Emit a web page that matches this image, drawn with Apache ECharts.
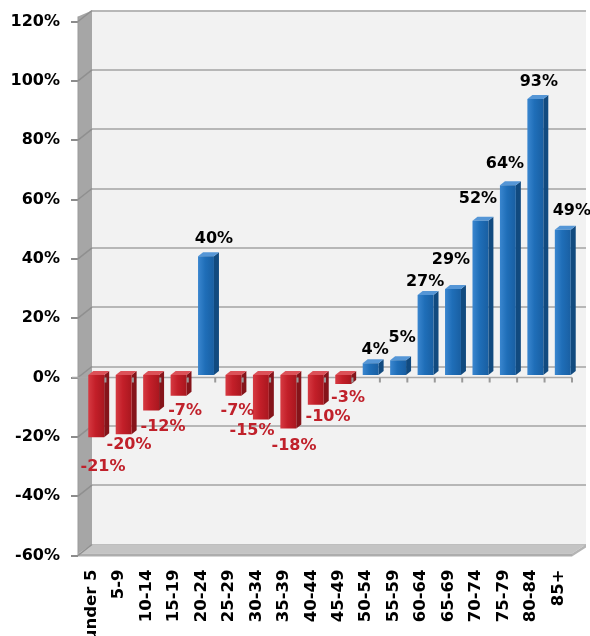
<!DOCTYPE html>
<html>
<head>
<meta charset="utf-8">
<script src="https://cdn.jsdelivr.net/npm/echarts@6/dist/echarts.min.js"></script>
<style>
html,body{margin:0;padding:0;background:#fff;}
#chart{width:590px;height:636px;}
</style>
</head>
<body>
<div id="chart"></div>
<script>
// ---- data ----
const categories = ['under 5','5-9','10-14','15-19','20-24','25-29','30-34','35-39','40-44','45-49','50-54','55-59','60-64','65-69','70-74','75-79','80-84','85+'];
const values = [-21,-20,-12,-7,40,-7,-15,-18,-10,-3,4,5,27,29,52,64,93,49];
const yMin = -60, yMax = 120, yStep = 20;

// ---- layout / style ----
const FRONT = {left:78, top:21.5, width:494, height:534};
const DEPTH = [14, -11];
const BAR = {dx:4.5, dy:-2.5, side:[5,-4], ratio:0.58};
const FONT = 'DejaVu Sans';
const BLUE = {front:['#3a86cf','#1f6eb8','#195fa2'], side:'#114a7f', top:'#5596d6'};
const RED  = {front:['#d63a42','#c31f29','#a9171f'], side:'#85141a', top:'#dc5158'};
const LABEL_RED = '#c0212b';
// label centre offsets relative to the value point on the front plane
const labelOffsets = [[11.3,27.5],[9.8,8.4],[16.4,13.6],[11,12.5],[12.5,-20],[8.5,12.5],[-4.4,9.3],[10.2,15],[16.7,10],[9.3,11.3],[9,-15.4],[8.5,-25],[4,-15.3],[2.5,-32],[2,-24],[1.6,-24],[8,-20],[13.5,-21.6]];

const chart = echarts.init(document.getElementById('chart'), null, {renderer:'canvas'});

function grad(cols){
  return new echarts.graphic.LinearGradient(0,0,1,0,[
    {offset:0,color:cols[0]},{offset:0.45,color:cols[1]},{offset:1,color:cols[2]}]);
}

function renderBar(params, api){
  const i = api.value(0), v = api.value(1);
  const p = api.coord([i, v]);
  const z = api.coord([i, 0]);
  const band = api.size([1, 0])[0];
  const w = band * BAR.ratio;
  const x0 = p[0] - w/2 + BAR.dx, x1 = x0 + w;
  const yT = Math.min(p[1], z[1]) + BAR.dy, yB = Math.max(p[1], z[1]) + BAR.dy;
  const sx = BAR.side[0], sy = BAR.side[1];
  const pal = v >= 0 ? BLUE : RED;
  return {type:'group', children:[
    {type:'polygon', shape:{points:[[x1,yT],[x1+sx,yT+sy],[x1+sx,yB+sy],[x1,yB]]}, style:{fill:pal.side}},
    {type:'polygon', shape:{points:[[x0,yT],[x0+sx,yT+sy],[x1+sx,yT+sy],[x1,yT]]}, style:{fill:pal.top}},
    {type:'rect', shape:{x:x0,y:yT,width:w,height:yB-yT}, style:{fill:grad(pal.front)}}
  ]};
}

function renderLabel(params, api){
  const i = api.value(0), v = api.value(1);
  const p = api.coord([i, v]);
  const off = labelOffsets[params.dataIndex];
  return {type:'text', x:p[0]+off[0], y:p[1]+off[1], z2:10,
    style:{text: v + '%', fill: v < 0 ? LABEL_RED : '#000',
      font: 'bold 16px "' + FONT + '"', align:'center', verticalAlign:'middle'}};
}

const option = {
  backgroundColor:'#ffffff',
  animation:false,
  grid:[
    {left:FRONT.left, top:FRONT.top, width:FRONT.width, height:FRONT.height,
     containLabel:false, outerBoundsMode:'none'},
    {left:FRONT.left+DEPTH[0], top:FRONT.top+DEPTH[1], width:FRONT.width, height:FRONT.height,
     containLabel:false, outerBoundsMode:'none',
     show:true, backgroundColor:'#f2f2f2', borderWidth:0, z:-1}
  ],
  xAxis:[
    {gridIndex:0, type:'category', data:categories, position:'bottom',
     axisLine:{show:false, onZero:false}, axisTick:{show:false},
     axisLabel:{interval:0, rotate:90, margin:14, color:'#000', fontFamily:FONT, fontWeight:'bold', fontSize:16.5}},
    {gridIndex:1, type:'category', data:categories,
     axisLine:{show:false}, axisTick:{show:false}, axisLabel:{show:false}, splitLine:{show:false}}
  ],
  yAxis:[
    {gridIndex:0, type:'value', min:yMin, max:yMax, interval:yStep,
     axisLine:{show:false}, splitLine:{show:false},
     axisTick:{show:true, length:7, lineStyle:{color:'#8c8c8c', width:2}},
     axisLabel:{formatter:'{value}%', margin:18, color:'#000', fontFamily:FONT, fontWeight:'bold', fontSize:16}},
    {gridIndex:1, type:'value', min:yMin, max:yMax, interval:yStep,
     axisLine:{show:false}, axisTick:{show:false}, axisLabel:{show:false},
     splitLine:{show:true, lineStyle:{color:'#a3a3a3', width:1.6}}}
  ],
  series:[
    {type:'custom', xAxisIndex:0, yAxisIndex:0, z:3,
     data: values.map((v,i)=>[i,v]), encode:{x:0,y:1}, renderItem:renderBar},
    {type:'custom', xAxisIndex:0, yAxisIndex:0, z:6, silent:true,
     data: values.map((v,i)=>[i,v]), encode:{x:0,y:1}, renderItem:renderLabel}
  ]
};
chart.setOption(option);

// ---- 3D walls, floor, zero axis (decoration) ----
const fy = v => chart.convertToPixel({yAxisIndex:0}, v);
const by = v => chart.convertToPixel({yAxisIndex:1}, v);
const L = FRONT.left, W = FRONT.width, BL = L + DEPTH[0];
const g = [];
// left wall
g.push({type:'polygon', z:1, shape:{points:[[L, fy(yMax)-5],[BL, by(yMax)],[BL, by(yMin)],[L, fy(yMin)]]}, style:{fill:'#a6a6a6'}});
g.push({type:'line', z:1, shape:{x1:L, y1:fy(yMax)-5, x2:L, y2:fy(yMin)}, style:{stroke:'#9a9a9a', lineWidth:1}});
for (let v = yMin; v <= yMax; v += yStep){
  g.push({type:'line', z:2, shape:{x1:L, y1:fy(v), x2:BL, y2:by(v)}, style:{stroke:'#8f8f8f', lineWidth:1.5}});
}
// floor
const fF = fy(yMin) - 2, fB = by(yMin);
g.push({type:'polygon', z:1, shape:{points:[[L,fF],[L+W,fF],[L+W+DEPTH[0],fB],[BL,fB]]}, style:{fill:'#c4c4c4'}});
g.push({type:'polygon', z:1, shape:{points:[[L,fF],[L+W,fF],[L+W,fF+3],[L,fF+3]]}, style:{fill:'#adadad'}});
g.push({type:'polygon', z:1, shape:{points:[[L+W,fF],[L+W+DEPTH[0],fB],[L+W+DEPTH[0],fB+3],[L+W,fF+3]]}, style:{fill:'#b5b5b5'}});
// zero line on the front plane (behind bars) and category ticks (in front)
const z0 = fy(0);
g.push({type:'line', z:2, shape:{x1:L-6, y1:z0, x2:L+W, y2:z0}, style:{stroke:'#a8a8a8', lineWidth:1.5}});
const n = categories.length;
for (let k = 1; k <= n; k++){
  const x = L + k*W/n;
  g.push({type:'line', z:10, shape:{x1:x, y1:z0, x2:x, y2:z0+5}, style:{stroke:'#9a9a9a', lineWidth:2}});
}
chart.setOption({graphic:{elements:g}});
</script>
</body>
</html>
